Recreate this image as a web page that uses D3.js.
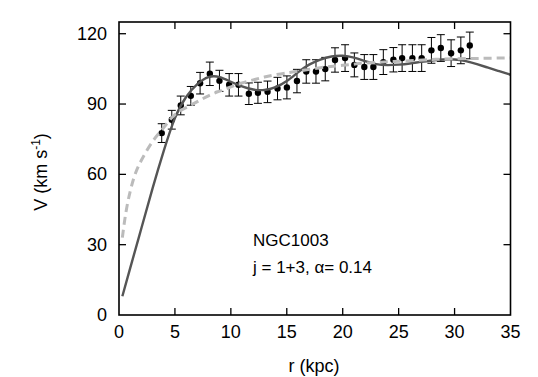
<!DOCTYPE html>
<html>
<head>
<meta charset="utf-8">
<script src="https://cdn.jsdelivr.net/npm/d3@7"></script>
<style>
  body { margin: 0; background: #fff; }
  svg text { font-family: "Liberation Sans", Arial, Helvetica, sans-serif; fill: #000; }
</style>
</head>
<body>
<div id="chart"></div>
<script>
// observed rotation curve points (r in kpc, V and error in km/s)
const obsR = [3.82, 4.72, 5.52, 6.42, 7.25, 8.12, 8.98, 9.85, 10.68, 11.61, 12.42, 13.28, 14.17, 15.01,
  15.91, 16.74, 17.61, 18.44, 19.31, 20.21, 21.04, 21.93, 22.74, 23.63, 24.53, 25.31, 26.23, 27.06,
  27.93, 28.77, 29.69, 30.56, 31.36];
const obsV = [77.6, 83.3, 89.4, 93.5, 98.9, 102.9, 99.9, 98.2, 98.2, 94.4, 94.8, 95.2, 96.6, 97.1,
  99.8, 103.9, 103.9, 104.9, 108.8, 109.6, 106.7, 105.8, 105.8, 107.9, 108.9, 109.6, 109.6, 109.6,
  112.9, 113.9, 111.7, 112.9, 115.0];
const obsErr = [4, 4, 4, 4, 4.6, 5, 4.5, 4.8, 4.8, 4.6, 4.5, 4.6, 4.8, 4.9,
  5, 5, 5, 5, 5.2, 5.7, 5.1, 5.3, 5.3, 5.3, 5.2, 5.7, 5.7, 5.7,
  5.5, 5.7, 5.7, 5.7, 5.7];

// model curve (solid)
const fitR = [0.3, 1, 2, 3, 4, 5, 6, 7, 8, 9, 10, 11, 12, 13, 14, 15, 16, 17, 18, 19, 20,
  21, 22, 23, 24, 25, 26, 27, 28, 29, 30, 31, 32, 33, 34, 35];
const fitV = [8, 20, 37, 54, 70, 84, 93, 98.5, 101.5, 101.5, 99.5, 97.5, 96.2, 96, 97.2, 99.8, 103.5,
  106.8, 109, 110.3, 110.6, 109.8, 108.3, 107, 106.6, 106.8, 107.3, 108, 108.6, 109, 109,
  108.3, 107, 105.5, 104, 102.5];

// comparison curve (dashed)
const dashR = [0.3, 0.7, 1.3, 2, 3, 4, 5, 6, 7, 8, 9, 10, 11, 12, 13, 14, 15, 16, 18, 20, 22, 24,
  26, 28, 30, 35];
const dashV = [33, 46, 58, 66, 74, 80, 85.5, 88.5, 91, 93.5, 95.5, 97.3, 99, 100.3, 101.5, 102.5,
  103.3, 104, 105.5, 106.5, 107.5, 108, 108.5, 109, 109.3, 109.7];

const xTicks = [0, 5, 10, 15, 20, 25, 30, 35];
const yTicks = [0, 30, 60, 90, 120];

const W = 538, H = 377;
const mL = 119, mR = 510.5, mT = 22, mB = 315;

const x = d3.scaleLinear().domain([0, 35]).range([mL, mR]);
const y = d3.scaleLinear().domain([0, 125]).range([mB, mT]);

const svg = d3.select("#chart").append("svg")
  .attr("width", W).attr("height", H);

// error bars and points
const pts = obsR.map((r, i) => ({r: r, v: obsV[i], e: obsErr[i]}));
const eb = svg.append("g").attr("stroke", "#000").attr("stroke-width", 1);
pts.forEach(d => {
  const cx = x(d.r);
  eb.append("line").attr("x1", cx).attr("x2", cx).attr("y1", y(d.v - d.e)).attr("y2", y(d.v + d.e));
  eb.append("line").attr("x1", cx - 4).attr("x2", cx + 4).attr("y1", y(d.v - d.e)).attr("y2", y(d.v - d.e));
  eb.append("line").attr("x1", cx - 4).attr("x2", cx + 4).attr("y1", y(d.v + d.e)).attr("y2", y(d.v + d.e));
});
svg.append("g").selectAll("circle").data(pts).enter().append("circle")
  .attr("cx", d => x(d.r)).attr("cy", d => y(d.v)).attr("r", 3.2).attr("fill", "#000");

const line = d3.line().x(d => x(d[0])).y(d => y(d[1])).curve(d3.curveNatural);

svg.append("path")
  .datum(fitR.map((r, i) => [r, fitV[i]]))
  .attr("d", line)
  .attr("fill", "none").attr("stroke", "#555").attr("stroke-width", 2.4);

svg.append("path")
  .datum(dashR.map((r, i) => [r, dashV[i]]))
  .attr("d", line)
  .attr("fill", "none").attr("stroke", "#bbb").attr("stroke-width", 3)
  .attr("stroke-dasharray", "8,5");

// frame and inward ticks on all sides
svg.append("rect").attr("x", mL).attr("y", mT)
  .attr("width", mR - mL).attr("height", mB - mT)
  .attr("fill", "none").attr("stroke", "#000").attr("stroke-width", 1.6);

const tk = 7;
const ticks = svg.append("g").attr("stroke", "#000").attr("stroke-width", 1.3);
xTicks.slice(1, -1).forEach(t => {
  ticks.append("line").attr("x1", x(t)).attr("x2", x(t)).attr("y1", mB).attr("y2", mB - tk);
  ticks.append("line").attr("x1", x(t)).attr("x2", x(t)).attr("y1", mT).attr("y2", mT + tk);
});
yTicks.slice(1).forEach(t => {
  ticks.append("line").attr("x1", mL).attr("x2", mL + tk).attr("y1", y(t)).attr("y2", y(t));
  ticks.append("line").attr("x1", mR).attr("x2", mR - tk).attr("y1", y(t)).attr("y2", y(t));
});

svg.append("g").selectAll("text").data(xTicks).enter().append("text")
  .attr("x", d => x(d)).attr("y", 338)
  .attr("text-anchor", "middle").style("font-size", "18px")
  .text(d => d);

svg.append("g").selectAll("text").data(yTicks).enter().append("text")
  .attr("x", 107).attr("y", d => y(d) + 6)
  .attr("text-anchor", "end").style("font-size", "18px")
  .text(d => d);

svg.append("text").attr("x", 314).attr("y", 372)
  .attr("text-anchor", "middle").style("font-size", "18px")
  .text("r (kpc)");

const yl = svg.append("text")
  .attr("transform", "translate(47,172) rotate(-90)")
  .attr("text-anchor", "middle").style("font-size", "18px");
yl.append("tspan").text("V (km s");
yl.append("tspan").attr("dy", -7).style("font-size", "12px").text("-1");
yl.append("tspan").attr("dy", 7).text(")");

svg.append("text").attr("x", 253).attr("y", 246).style("font-size", "17px").text("NGC1003");
const lab = svg.append("text").attr("x", 253).attr("y", 273).style("font-size", "17px");
lab.append("tspan").text("j = 1+3, ");
lab.append("tspan").text("\u03b1= 0.14");
</script>
</body>
</html>
